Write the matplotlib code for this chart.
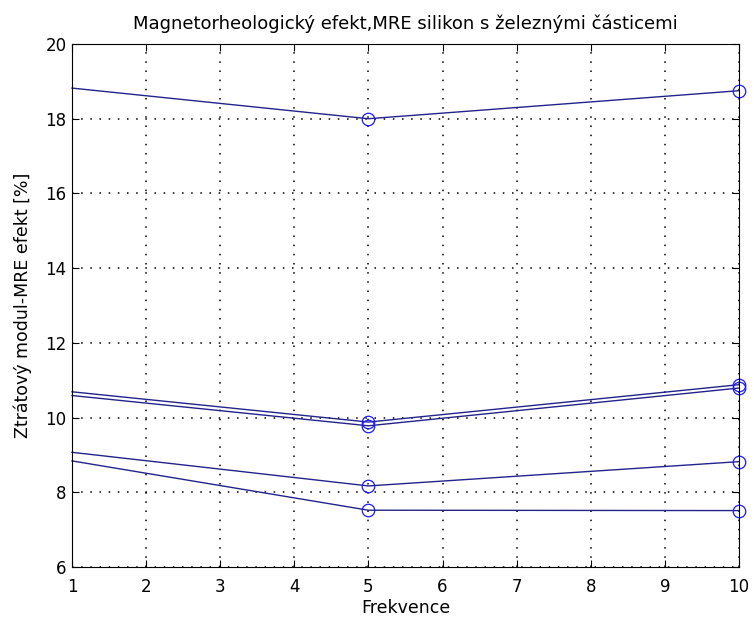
import matplotlib
matplotlib.use("Agg")
import matplotlib.pyplot as plt

plt.rcParams['font.family'] = ['DejaVu Sans']

frekvence = [1, 5, 10]
mre_1 = [18.82, 18.0, 18.75]
mre_2 = [10.69, 9.88, 10.88]
mre_3 = [10.59, 9.78, 10.79]
mre_4 = [9.07, 8.17, 8.82]
mre_5 = [8.84, 7.52, 7.51]

fig = plt.figure(figsize=(7.54, 6.2), dpi=100)
ax = fig.add_axes([0.0955, 0.0855, 0.8845, 0.8435])

for s in [mre_1, mre_2, mre_3, mre_4, mre_5]:
    ax.plot(frekvence, s, color='#23238c', lw=1.0, marker='o', markersize=9,
            markerfacecolor='none', markeredgecolor='#1a1aff', markeredgewidth=0.9,
            markevery=[1, 2], clip_on=False)

ax.set_xlim(1, 10)
ax.set_ylim(6, 20)
ax.set_xticks(range(1, 11))
ax.set_yticks(range(6, 21, 2))
ax.grid(True, color='black', linestyle=(0, (1, 5)), linewidth=1.1)
ax.tick_params(direction='in', top=True, right=True, labelsize=12, length=5)
ax.tick_params(axis='x', pad=8)
ax.tick_params(axis='y', pad=4)
for sp in ax.spines.values():
    sp.set_linewidth(0.8)

ax.set_title('Magnetorheologický efekt,MRE silikon s železnými částicemi', fontsize=13, pad=11)
ax.set_xlabel('Frekvence', fontsize=12.5)
ax.set_ylabel('Ztrátový modul-MRE efekt [%]', fontsize=12.5)
ax.xaxis.set_label_coords(0.5, -0.062)
ax.yaxis.set_label_coords(-0.06, 0.5)

fig.savefig('out.png', dpi=100)
